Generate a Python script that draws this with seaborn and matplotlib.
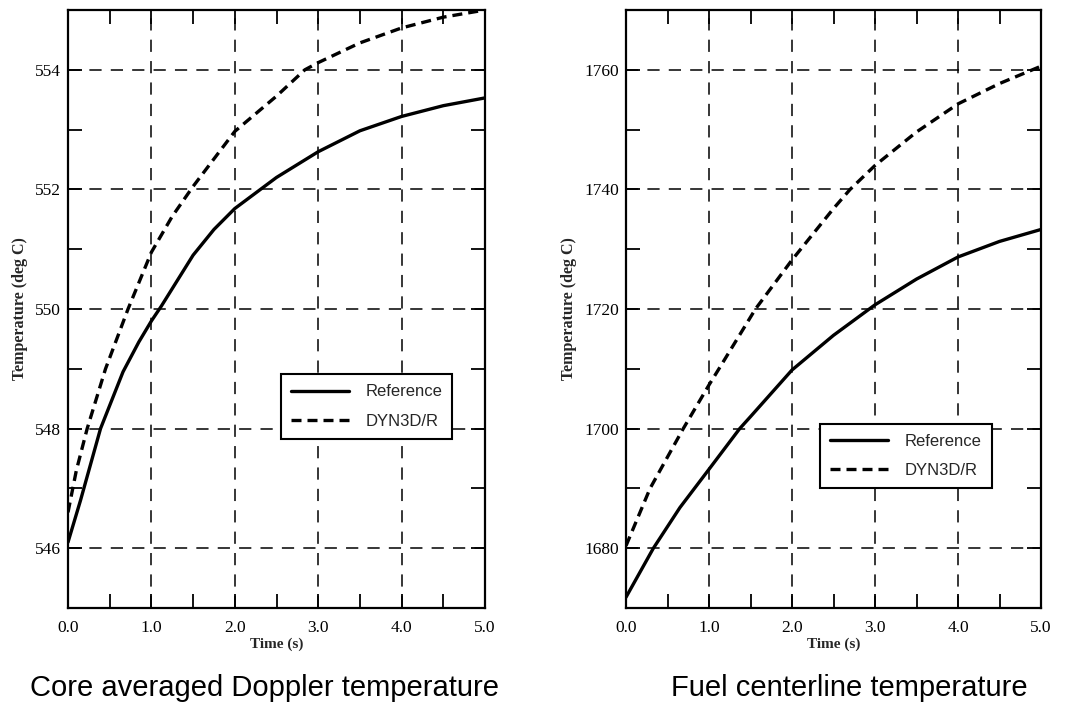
import numpy as np
import pandas as pd
import matplotlib
matplotlib.use("Agg")
import matplotlib.pyplot as plt
import seaborn as sns
from matplotlib.ticker import MultipleLocator

# ---- data ----
time_ref_l = [0.0, 0.15, 0.39, 0.66, 0.85, 1.0, 1.12, 1.5, 1.75, 2.0, 2.5, 3.0, 3.5, 4.0, 4.5, 5.0]
doppler_ref = [546.1, 546.8, 548.0, 548.95, 549.45, 549.8, 550.05, 550.9, 551.33, 551.68, 552.2, 552.63, 552.98, 553.22, 553.4, 553.53]

time_dyn_l = [0.0, 0.1, 0.23, 0.45, 0.72, 1.0, 1.25, 1.5, 2.0, 2.5, 2.84, 3.0, 3.5, 4.0, 4.5, 5.0]
doppler_dyn = [546.6, 547.3, 548.0, 549.0, 550.0, 550.95, 551.55, 552.05, 552.97, 553.56, 554.0, 554.12, 554.45, 554.7, 554.88, 555.0]

time_ref_r = [0.0, 0.33, 0.65, 1.0, 1.37, 1.5, 2.0, 2.5, 3.0, 3.5, 4.0, 4.5, 5.0]
fuel_ref = [1671.8, 1680.0, 1686.8, 1693.2, 1700.0, 1702.0, 1709.8, 1715.6, 1720.7, 1725.0, 1728.7, 1731.3, 1733.3]

time_dyn_r = [0.0, 0.29, 0.69, 1.0, 1.12, 1.56, 2.0, 2.5, 2.7, 3.0, 3.5, 4.0, 4.5, 5.0]
fuel_dyn = [1680.4, 1690.0, 1700.0, 1707.3, 1710.0, 1720.0, 1728.2, 1736.8, 1740.0, 1744.0, 1749.6, 1754.3, 1757.7, 1760.6]

labels = ["Reference", "DYN3D/R"]
xticks = [0.0, 1.0, 2.0, 3.0, 4.0, 5.0]
xticklabels = ["0.0", "1.0", "2.0", "3.0", "4.0", "5.0"]
titles = ["Core averaged Doppler temperature", "Fuel centerline temperature"]

sns.set_theme(style="ticks")
plt.rcParams["font.family"] = ["Liberation Serif", "DejaVu Serif"]

fig = plt.figure(figsize=(10.91, 7.22), dpi=100)
W, H = 1091, 722
ax1 = fig.add_axes([68 / W, (H - 608) / H, (485 - 68) / W, (608 - 10) / H])
ax2 = fig.add_axes([626 / W, (H - 608) / H, (1041 - 626) / W, (608 - 10) / H])


def draw(ax, tref, yref, tdyn, ydyn, ylim, ymaj, ymin, leg_box):
    dref = pd.DataFrame({"t": tref, "v": yref})
    ddyn = pd.DataFrame({"t": tdyn, "v": ydyn})
    sns.lineplot(data=dref, x="t", y="v", ax=ax, color="black", lw=2.4,
                 label=labels[0], zorder=3)
    sns.lineplot(data=ddyn, x="t", y="v", ax=ax, color="black", lw=2.4,
                 linestyle=(0, (3.0, 1.8)), label=labels[1], zorder=3)
    ax.set_xlim(0, 5)
    ax.set_ylim(*ylim)
    ax.set_xticks(xticks)
    ax.set_xticklabels(xticklabels)
    ax.xaxis.set_minor_locator(MultipleLocator(0.5))
    ax.yaxis.set_major_locator(MultipleLocator(ymaj))
    ax.yaxis.set_minor_locator(MultipleLocator(ymin))
    ax.grid(True, which="major", color="black", linestyle=(0, (8, 6)), lw=1.1)
    ax.tick_params(which="both", direction="in", top=True, right=True,
                   color="black", width=1.3, labelsize=12.5, labelcolor="black")
    ax.tick_params(which="major", length=10)
    ax.tick_params(which="minor", length=10)
    ax.tick_params(axis="x", which="major", pad=9)
    ax.tick_params(axis="y", which="major", pad=5)
    for s in ax.spines.values():
        s.set_linewidth(1.6)
        s.set_color("black")
    ax.set_xlabel("Time (s)", fontsize=11, fontweight="semibold", labelpad=1)
    ax.set_ylabel("Temperature (deg C)", fontsize=11.5, fontweight="semibold", labelpad=5)
    x0, y0, x1, y1 = leg_box
    leg = ax.legend(loc="center", bbox_to_anchor=((x0 + x1) / 2 / W, 1 - (y0 + y1) / 2 / H),
                    bbox_transform=fig.transFigure,
                    fancybox=False, framealpha=1, edgecolor="black",
                    prop={"family": "Liberation Sans", "size": 12},
                    handlelength=3.5, handletextpad=1.0, borderpad=0.6, labelspacing=0.85,
                    borderaxespad=0)
    leg.get_frame().set_linewidth(1.5)


draw(ax1, time_ref_l, doppler_ref, time_dyn_l, doppler_dyn, (545, 555), 2, 1,
     (283, 372, 450, 441))
draw(ax2, time_ref_r, fuel_ref, time_dyn_r, fuel_dyn, (1670, 1770), 20, 10,
     (822, 420, 990, 492))

for x, t in zip([265 / W, 849 / W], titles):
    fig.text(x, (H - 688) / H, t, ha="center", va="center",
             family="Liberation Sans", fontsize=21, color="black")

fig.savefig("out.png", dpi=100, facecolor="white")
